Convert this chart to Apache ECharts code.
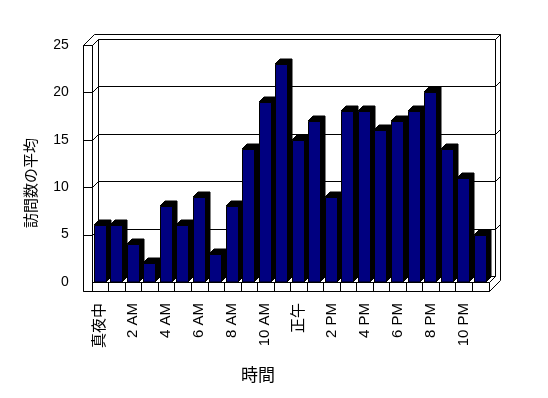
<!DOCTYPE html>
<html><head><meta charset="utf-8">
<script src="https://cdn.jsdelivr.net/npm/echarts@6/dist/echarts.min.js"></script>
<style>html,body{margin:0;padding:0;background:#fff}#c{width:548px;height:398px}</style>
</head><body><div id="c"></div>
<script>
var categories = ['真夜中','1 AM','2 AM','3 AM','4 AM','5 AM','6 AM','7 AM','8 AM','9 AM','10 AM','11 AM',
  '正午','1 PM','2 PM','3 PM','4 PM','5 PM','6 PM','7 PM','8 PM','9 PM','10 PM','11 PM'];
var visits = [6,6,4,2,8,6,9,3,8,14,19,23,15,17,9,18,18,16,17,18,20,14,11,5];
var yTicks = [0,5,10,15,20,25];
var xTitle = '時間';
var yTitle = '訪問数の平均';

var FONT = "'Liberation Sans','Noto Sans CJK JP',sans-serif";
var D = 6, T = 5, LW = 8.8, FH = 9, BD = 5;
function c(v){ return Math.round(v) + 0.5; }
function ln(x1,y1,x2,y2){ return {type:'line', shape:{x1:x1,y1:y1,x2:x2,y2:y2}, style:{stroke:'#000',lineWidth:1}}; }

var chart = echarts.init(document.getElementById('c'), null, {renderer:'canvas'});
chart.setOption({
  backgroundColor:'#fff',
  animation:false,
  grid:{left:91.8, right:59.5, top:45, bottom:116},
  xAxis:{type:'category', data:categories, boundaryGap:true,
    axisLine:{show:false}, axisTick:{show:false},
    axisLabel:{interval:1, rotate:90, margin:21, color:'#000', fontSize:15, fontFamily:FONT}},
  yAxis:{type:'value', min:yTicks[0], max:yTicks[yTicks.length-1], interval:5,
    axisLine:{show:false}, axisTick:{show:false}, splitLine:{show:false},
    axisLabel:{margin:23, color:'#000', fontSize:14, fontFamily:FONT}},
  graphic:[
    {type:'text', x:31.5, y:183, rotation:Math.PI/2, style:{text:yTitle, fill:'#000', font:'15px '+FONT, align:'center', verticalAlign:'middle'}},
    {type:'text', x:258, y:376, style:{text:xTitle, fill:'#000', font:'17px '+FONT, align:'center', verticalAlign:'middle'}}
  ],
  series:[
    {type:'custom', clip:false, z:1, silent:true, data:[[0,0]],
     renderItem:function(params, api){
       var cs = params.coordSys;
       var X0 = cs.x, X1 = cs.x + cs.width, Yt = cs.y, Y0 = cs.y + cs.height;
       var ch = [];
       // outer silhouette
       ch.push({type:'polygon', shape:{points:[
         [c(X0-LW), c(Y0+FH)], [c(X0-LW), c(Yt)], [c(X0-LW+D+T), c(Yt-D-T)],
         [c(X1+D+T), c(Yt-D-T)], [c(X1+D+T), c(Y0+FH-D-T)], [c(X1), c(Y0+FH)]]},
         style:{fill:'#fff', stroke:'#000', lineWidth:1}});
       // back wall inner face
       ch.push({type:'polygon', shape:{points:[[c(X0+D),c(Yt-D)],[c(X1+D),c(Yt-D)],[c(X1+D),c(Y0-D)],[c(X0+D),c(Y0-D)]]},
         style:{fill:'#fff', stroke:'#000', lineWidth:1}});
       ch.push(ln(c(X0-LW),c(Yt),c(X0),c(Yt)));
       ch.push(ln(c(X0),c(Yt),c(X0+D),c(Yt-D)));
       ch.push(ln(c(X0),c(Yt),c(X0),c(Y0+FH)));
       ch.push(ln(c(X1+D),c(Yt-D),c(X1+D+T),c(Yt-D-T)));
       // gridlines
       for (var k=0;k<yTicks.length;k++){
         var y = api.coord([0, yTicks[k]])[1];
         if (k>0 && k<yTicks.length-1){
           ch.push(ln(c(X0+D),c(y-D),c(X1+D),c(y-D)));
           ch.push(ln(c(X1+D),c(y-D),c(X1+D+T),c(y-D-T)));
         }
         if (k>0) {
           ch.push(ln(c(X0-LW),c(y),c(X0),c(y)));
           ch.push(ln(c(X0),c(y),c(X0+D),c(y-D)));
         }
       }
       // floor front face
       ch.push(ln(c(X0),c(Y0),c(X1),c(Y0)));
       ch.push(ln(c(X0-LW),c(Y0+FH),c(X1),c(Y0+FH)));
       ch.push(ln(c(X1),c(Y0),c(X1),c(Y0+FH)));
       ch.push(ln(c(X1),c(Y0),c(X1+D),c(Y0-D)));
       ch.push(ln(c(X1+D),c(Y0-D),c(X1+D),c(Yt-D)));
       var band = api.size([1,0])[0];
       for (var i=1;i<categories.length;i++){
         var bx = X0 + i*band;
         ch.push(ln(c(bx),c(Y0),c(bx),c(Y0+FH)));
       }
       return {type:'group', children:ch};
     }},
    {type:'custom', clip:false, z:2, data:visits.map(function(v,i){return [i,v];}),
     renderItem:function(params, api){
       var i = api.value(0), v = api.value(1);
       var p = api.coord([i, v]), b = api.coord([i, 0]);
       var band = api.size([1,0])[0];
       var L = Math.round(p[0] - band/2 + 1.7), W = Math.round(band*0.75);
       var top = Math.round(p[1]), base = Math.round(b[1]);
       return {type:'group', children:[
         {type:'polygon', shape:{points:[[L,top],[L+BD,top-BD],[L+W+BD,top-BD],[L+W+BD,base-BD],[L+W,base],[L+W,top]]},
          style:{fill:'#000', stroke:'#000', lineWidth:1}},
         {type:'rect', shape:{x:L+0.5, y:top+0.5, width:W, height:base-top-0.5},
          style:{fill:'#000080', stroke:'#000', lineWidth:1}}
       ]};
     }}
  ]
});
</script></body></html>
